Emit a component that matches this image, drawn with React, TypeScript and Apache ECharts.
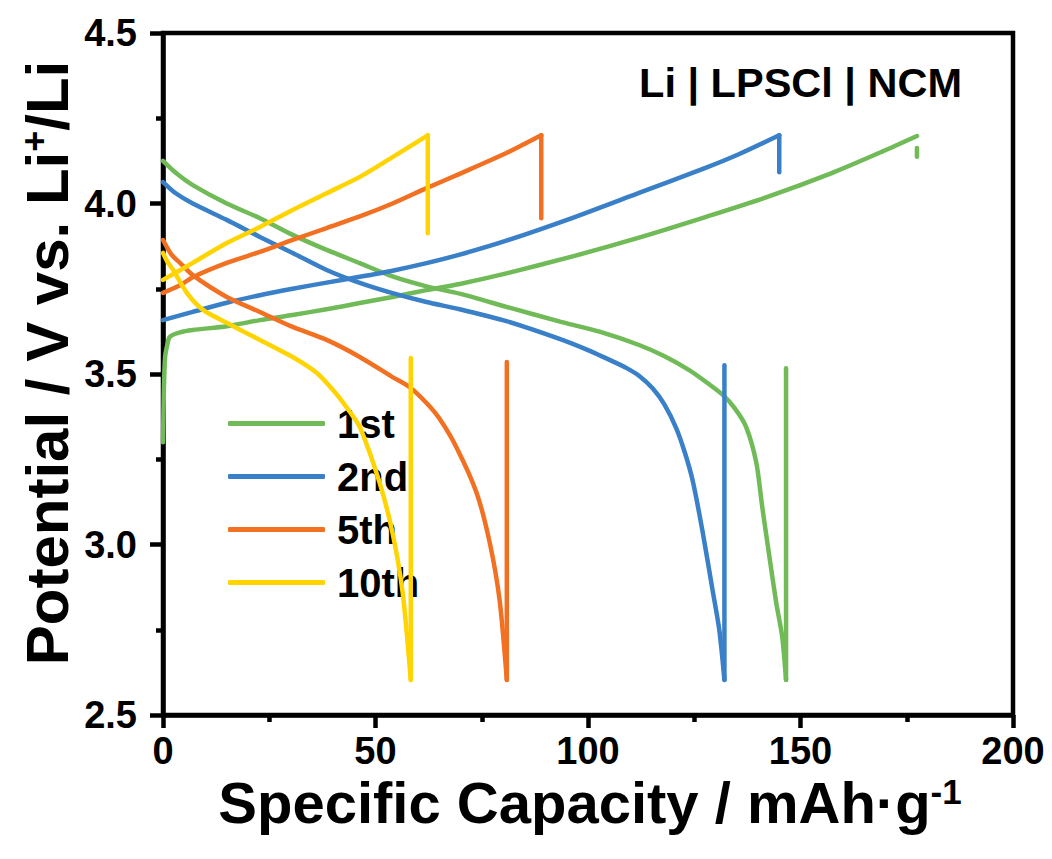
import React, { useEffect, useRef } from "react";
import * as echarts from "echarts";

const cycleNames = ["1st", "2nd", "5th", "10th"];
const cycleColors = ["#70bb58", "#3a80c8", "#f27022", "#ffd400"];

const xTicks = [0, 200, 50];
const yTicks = [2.5, 4.5, 0.5];

// capacity (mAh/g), potential (V)
const c1Charge = [
  [0, 3.3], [0.2, 3.45], [0.5, 3.55], [1, 3.585], [1.6, 3.609], [4, 3.622], [7, 3.629],
  [15, 3.64], [22.8, 3.658], [30.5, 3.673], [38.5, 3.69], [46.3, 3.708], [54, 3.726],
  [62, 3.746], [69.8, 3.764], [80.8, 3.795], [96.4, 3.845], [112, 3.9], [127.8, 3.961],
  [141.9, 4.018], [157.5, 4.09], [169.2, 4.152], [177.4, 4.198],
];
const c1Rest = [[177.4, 4.163], [177.4, 4.137]];
const c1Discharge = [
  [0, 4.125], [3, 4.09], [7, 4.054], [15, 4.0], [22.8, 3.957], [30.5, 3.908], [38.5, 3.864],
  [46.3, 3.825], [54, 3.786], [62, 3.757], [70, 3.735], [80.8, 3.697], [93, 3.655],
  [102.7, 3.624], [112, 3.585], [118, 3.552], [124, 3.51], [128.5, 3.47], [131.6, 3.44],
  [134.5, 3.4], [137.2, 3.345], [139.6, 3.24], [141, 3.11], [142.7, 2.963], [144.3, 2.828],
  [145.7, 2.729], [146.6, 2.603],
];
const c1Relax = [[146.6, 2.603], [146.6, 3.517]];
const c2Charge = [
  [0, 3.658], [7, 3.682], [15, 3.709], [22.8, 3.731], [30.5, 3.75], [38.5, 3.768],
  [46.3, 3.785], [54, 3.803], [62, 3.825], [69.8, 3.85], [80.8, 3.891], [96.4, 3.958],
  [112, 4.031], [127.8, 4.105], [135.6, 4.145], [145, 4.2],
];
const c2Rest = [[145, 4.2], [145, 4.092]];
const c2Discharge = [
  [0, 4.063], [3, 4.03], [7, 4.0], [15, 3.952], [22.8, 3.902], [30.5, 3.855], [38.5, 3.805],
  [46.3, 3.767], [54, 3.737], [62, 3.711], [69.8, 3.69], [80.8, 3.655], [93.3, 3.603],
  [100, 3.57], [106.7, 3.532], [109, 3.518], [112, 3.495], [115.2, 3.458], [118, 3.41],
  [120.8, 3.34], [122.8, 3.269], [124.6, 3.189], [126.9, 3.042], [129.3, 2.867],
  [130.9, 2.749], [132.1, 2.603],
];
const c2Relax = [[132.1, 2.603], [132.1, 3.526]];
const c5Charge = [
  [0, 3.738], [4, 3.76], [7, 3.784], [15, 3.826], [22.8, 3.858], [30.5, 3.893], [38.5, 3.928],
  [46.3, 3.962], [54, 4.0], [62, 4.045], [69.8, 4.087], [80.8, 4.148], [89, 4.2],
];
const c5Rest = [[89, 4.2], [89, 3.957]];
const c5Discharge = [
  [0, 3.893], [2, 3.85], [4, 3.826], [7, 3.79], [15, 3.726], [22.8, 3.682], [30.5, 3.638],
  [38.5, 3.6], [46.3, 3.55], [54, 3.491], [58, 3.462], [62, 3.415], [65, 3.37], [69, 3.286],
  [73.8, 3.151], [76.9, 3.004], [79.2, 2.837], [80.9, 2.603],
];
const c5Relax = [[80.9, 2.603], [80.9, 3.535]];
const c10Charge = [
  [0, 3.776], [7, 3.826], [15, 3.884], [22.8, 3.931], [30.5, 3.981], [38.5, 4.03],
  [46.3, 4.078], [54, 4.136], [62.3, 4.2],
];
const c10Rest = [[62.3, 4.2], [62.3, 3.913]];
const c10Discharge = [
  [0, 3.855], [1, 3.83], [2.4, 3.805], [5.6, 3.738], [9.4, 3.688], [15, 3.65], [22.8, 3.6],
  [30.5, 3.55], [36.2, 3.503], [40.9, 3.44], [43.9, 3.39], [46.3, 3.345], [51, 3.18],
  [54, 3.034], [56.4, 2.858], [58.3, 2.603],
];
const c10Relax = [[58.3, 2.603], [58.3, 3.547]];

const FONT = "'Liberation Sans', Arial, sans-serif";
const LW = 4.5;

export default function App() {
  const ref = useRef<HTMLDivElement>(null);
  useEffect(() => {
    if (!ref.current) return;
    const chart = echarts.init(ref.current, undefined, { renderer: "svg" });
    const groups: [number, number[][], boolean][] = [
      [0, c1Charge, true], [0, c1Rest, false], [0, c1Discharge, true], [0, c1Relax, false],
      [1, c2Charge, true], [1, c2Rest, false], [1, c2Discharge, true], [1, c2Relax, false],
      [2, c5Charge, true], [2, c5Rest, false], [2, c5Discharge, true], [2, c5Relax, false],
      [3, c10Charge, true], [3, c10Rest, false], [3, c10Discharge, true], [3, c10Relax, false],
    ];
    const series = groups.map(([i, d, sm]) => ({
      type: "line",
      name: cycleNames[i],
      data: d,
      showSymbol: false,
      symbol: "none",
      smooth: sm ? 0.25 : false,
      color: cycleColors[i],
      lineStyle: { width: LW, color: cycleColors[i], cap: "round", join: "round" },
      z: 2 + i,
    }));
    const axisCommon = {
      type: "value",
      axisLine: { show: true, onZero: false, lineStyle: { color: "#000", width: 4.5 } },
      axisTick: { show: true, inside: false, length: 13, lineStyle: { color: "#000", width: 4.5 } },
      minorTick: { show: true, splitNumber: 2, length: 7, lineStyle: { color: "#000", width: 4.5 } },
      splitLine: { show: false },
      axisLabel: { color: "#000", fontSize: 38, fontWeight: "bold", fontFamily: FONT },
    };
    chart.setOption({
      animation: false,
      backgroundColor: "#fff",
      grid: { left: 163, top: 33, right: 39, bottom: 144, show: true, borderColor: "#000", borderWidth: 4.5 },
      xAxis: {
        ...axisCommon,
        min: xTicks[0], max: xTicks[1], interval: xTicks[2],
        axisLabel: { ...axisCommon.axisLabel, margin: 17, lineHeight: 38 },
      },
      yAxis: {
        ...axisCommon,
        min: yTicks[0], max: yTicks[1], interval: yTicks[2],
        axisLabel: { ...axisCommon.axisLabel, margin: 26, formatter: (v: number) => v.toFixed(1) },
      },
      legend: {
        orient: "vertical",
        left: 228,
        top: 397,
        padding: 0,
        icon: "roundRect",
        itemWidth: 97,
        itemHeight: 5,
        itemGap: 0,
        data: cycleNames,
        textStyle: { fontSize: 40, fontWeight: "bold", color: "#000", fontFamily: FONT, lineHeight: 53, padding: [0, 0, 0, 7] },
      },
      graphic: [
        {
          type: "text",
          x: 962,
          y: 82,
          style: {
            text: "Li | LPSCl | NCM",
            fill: "#000",
            fontSize: 41.5,
            fontWeight: "bold",
            fontFamily: FONT,
            textAlign: "right",
            textVerticalAlign: "middle",
          },
        },
        {
          type: "text",
          x: 590,
          y: 802,
          style: {
            text: "{a|Specific Capacity / mAh·g}{s|-1}",
            fill: "#000",
            textAlign: "center",
            textVerticalAlign: "middle",
            rich: {
              a: { fontSize: 58, fontWeight: "bold", fontFamily: FONT, lineHeight: 56, fill: "#000" },
              s: { fontSize: 35, fontWeight: "bold", fontFamily: FONT, lineHeight: 56, verticalAlign: "top", fill: "#000" },
            },
          },
        },
        {
          type: "text",
          x: 47,
          y: 363,
          rotation: Math.PI / 2,
          style: {
            text: "{a|Potential / V vs. Li}{s|+}{a|/Li}",
            fill: "#000",
            textAlign: "center",
            textVerticalAlign: "middle",
            rich: {
              a: { fontSize: 60, fontWeight: "bold", fontFamily: FONT, lineHeight: 62, fill: "#000" },
              s: { fontSize: 36, fontWeight: "bold", fontFamily: FONT, lineHeight: 62, verticalAlign: "top", fill: "#000" },
            },
          },
        },
      ],
      series,
    });
    return () => chart.dispose();
  }, []);
  return <div ref={ref} style={{ width: 1052, height: 859, margin: -8 }} />;
}
